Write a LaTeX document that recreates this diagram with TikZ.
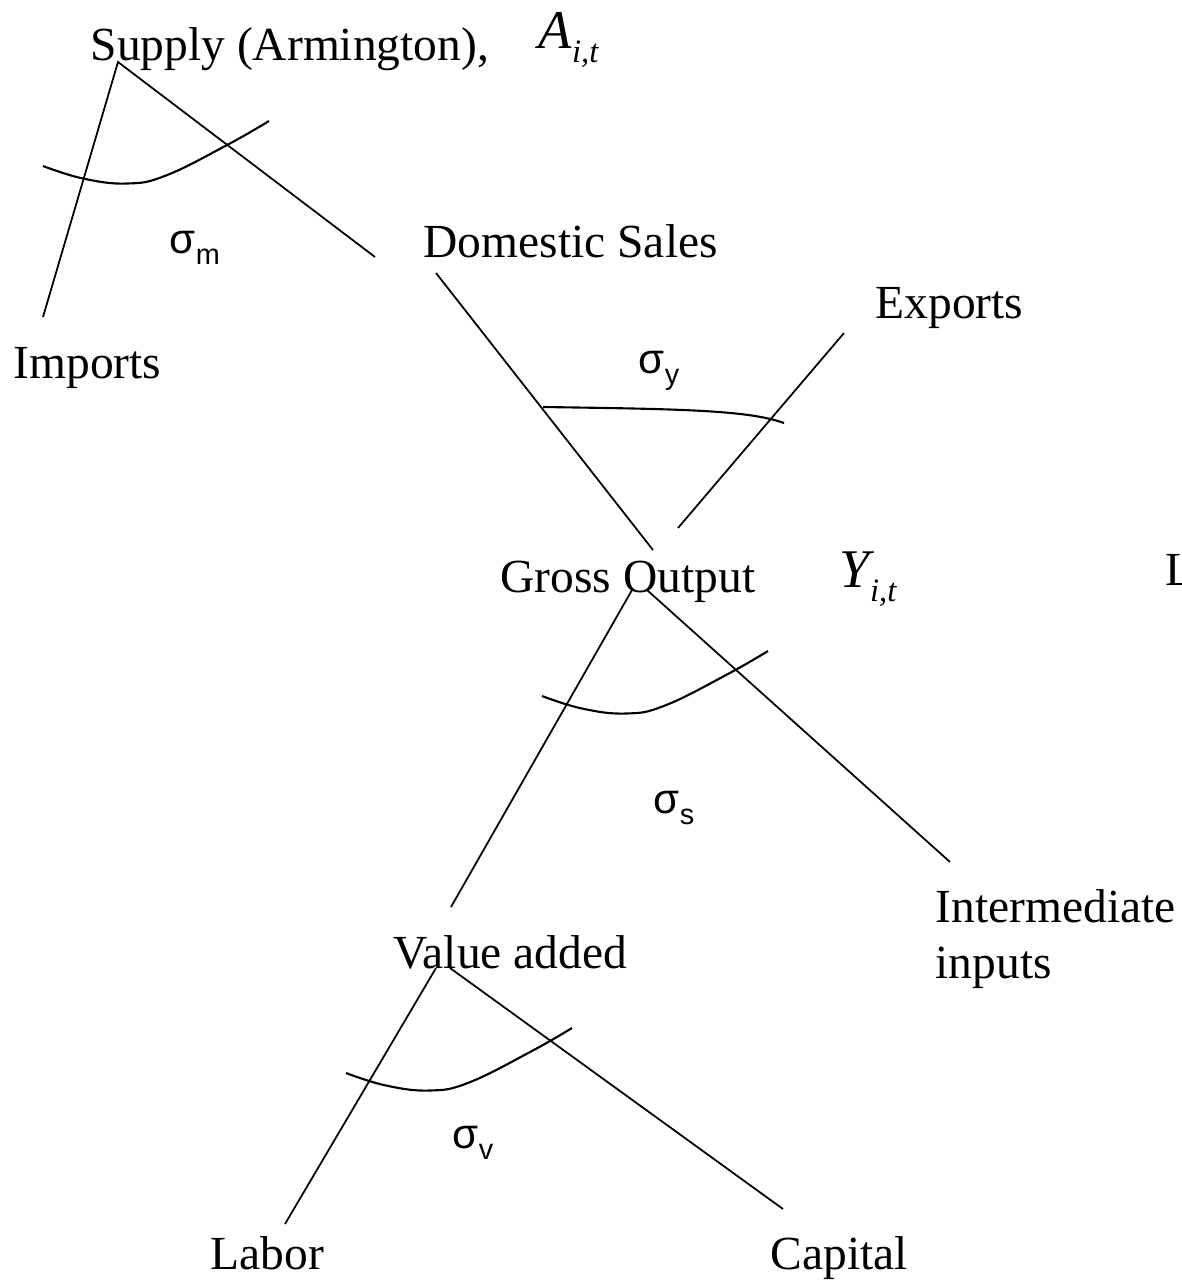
\documentclass[tikz,border=0pt]{standalone}
\usepackage{fontspec}
\setmainfont{Liberation Serif}
\setsansfont{Liberation Sans}
\usetikzlibrary{positioning}

\newcommand{\armidx}[1]{\raisebox{-4pt}{\fontsize{9.3pt}{10pt}\selectfont\itshape #1}}
\newcommand{\sigmalabel}[1]{{\sffamily\fontsize{12pt}{14pt}\selectfont σ\raisebox{-3.4pt}{\fontsize{8.2pt}{9pt}\selectfont #1}}}

\begin{document}
\begin{tikzpicture}[x=0.01cm, y=-0.01cm,
  txt/.style={anchor=base west, inner sep=0pt, font=\fontsize{13.5pt}{16pt}\selectfont},
  sym/.style={anchor=base west, inner sep=0pt, font=\fontsize{15.5pt}{18pt}\selectfont\itshape},
  elas/.style={anchor=base west, inner sep=0pt},
  branch/.style={black, line width=0.5pt},
  elastic/.style={black, line width=0.6pt}]

\fill[white] (0,0) rectangle (1182,1281);
\useasboundingbox (0,0) rectangle (1182,1281);

% labels
\node[txt] (supply) at (90,60) {Supply (Armington),};
\node[sym] (armA) at (538,48) {A\armidx{i,t}};
\node[txt] (imports) at (13,378) {Imports};
\node[txt] (domestic) at (423,257) {Domestic Sales};
\node[txt] (exports) at (875,318) {Exports};
\node[txt] (gross) at (500,592) {Gross Output};
\node[sym] (armY) at (839,587) {Y\armidx{i,t}};
\node[txt] (cutL) at (1165,585) {L};
\node[txt] (inter) at (935,922) {Intermediate};
\node[txt] (inputs) at (935,978) {inputs};
\node[txt] (value) at (393,968) {Value added};
\node[txt] (labor) at (210,1269) {Labor};
\node[txt] (capital) at (770,1269) {Capital};

% elasticities
\node[elas] (sigM) at (169,253) {\sigmalabel{m}};
\node[elas] (sigY) at (638,373) {\sigmalabel{y}};
\node[elas] (sigS) at (653,813) {\sigmalabel{s}};
\node[elas] (sigV) at (452,1148) {\sigmalabel{v}};

% branch ends
\coordinate (supTop) at (118,62);
\coordinate (impEnd) at (43,317);
\coordinate (domEnd) at (375,257);
\coordinate (domTop) at (436,273);
\coordinate (domBot) at (653,550);
\coordinate (expTop) at (844,333);
\coordinate (expBot) at (678,528);
\coordinate (grossL) at (632,590);
\coordinate (grossR) at (647,590);
\coordinate (valEnd) at (451,907);
\coordinate (intEnd) at (950,862);
\coordinate (valL) at (436,968);
\coordinate (valR) at (450,968);
\coordinate (labEnd) at (285,1224);
\coordinate (capEnd) at (783,1209);

\draw[branch] (impEnd) -- (supTop) -- (domEnd);
\draw[branch] (domTop) -- (domBot);
\draw[branch] (expTop) -- (expBot);
\draw[branch] (valEnd) -- (grossL);
\draw[branch] (grossR) -- (intEnd);
\draw[branch] (labEnd) -- (valL);
\draw[branch] (valR) -- (capEnd);

% curves
\foreach \cx/\cy in {43/166, 542/696, 346/1073}
\draw[elastic, shift={(\cx,\cy)}] plot[smooth, tension=0.7]
  coordinates {(0,0) (40,12.5) (84,17.5) (123,9.5) (185,-21.5) (226,-45)};

\draw[elastic] (543,407) .. controls (680,409) and (748,410) .. (784,423);

\end{tikzpicture}
\end{document}
